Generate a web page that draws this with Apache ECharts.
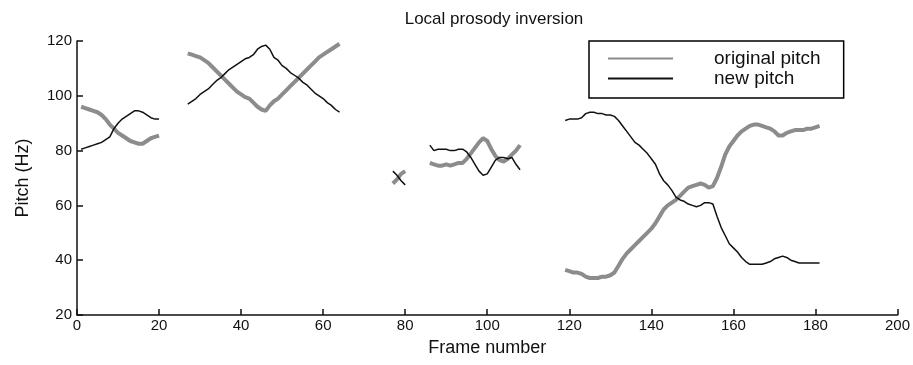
<!DOCTYPE html>
<html>
<head>
<meta charset="utf-8">
<script src="https://cdn.jsdelivr.net/npm/echarts@6/dist/echarts.min.js"></script>
<style>html,body{margin:0;padding:0;background:#fff}#c{width:913px;height:365px}</style>
</head>
<body>
<div id="c"></div>
<script>
// Segments of frames (x) with values for both series
const seg1Frames = [1,2,3,4,5,6,7,8,9,10,11,12,13,14,15,16,17,18,19,20];
const seg1Original = [96,95.5,95,94.5,94,93,91.5,89.5,88,86.5,85.5,84.5,83.5,83,82.5,82.5,83.5,84.5,85,85.5];
const seg1New = [80.5,81,81.5,82,82.5,83,84,85,88,90,91.5,92.5,93.5,94.5,94.5,94,93,92,91.5,91.5];

const seg2Frames = [27,28,29,30,31,32,33,34,35,36,37,38,39,40,41,42,43,44,45,46,47,48,49,50,51,52,53,54,55,56,57,58,59,60,61,62,63,64];
const seg2Original = [115.5,115,114.5,114,113,112,110.5,109,107.5,106,104.5,103,101.5,100.5,99.5,99,97.5,96,95,94.5,96.5,98,99,100.5,102,103.5,105,106.5,108,109.5,111,112.5,114,115,116,117,118,119];
const seg2New = [97,98,99,100.5,101.5,102.5,104,105.5,106.5,108,109.5,110.5,111.5,112.5,113.5,114,115,117,118,118.5,117,114,113,111,110,108.5,107.5,106.5,105,104,102.5,101,100,99,97.5,96.5,95,94];

const seg3Frames = [77,78,79,80];
const seg3Original = [68,69.5,71.5,72.5];
const seg3New = [72.5,71,69,67.5];

const seg4Frames = [86,87,88,89,90,91,92,93,94,95,96,97,98,99,100,101,102,103,104,105,106,107,108];
const seg4Original = [75.5,75,74.5,74.5,75,74.5,75,75.5,75.5,77,79,81,83,84.5,83.5,80.5,78,76.5,76,77,78.5,80,82];
const seg4New = [82,80,80.5,80.5,80.5,80,80,80.5,80.5,79.5,77.5,75,72.5,71,71.5,74,76.5,77.5,77.5,77,77.5,75,73];

const seg5Frames = [119,120,121,122,123,124,125,126,127,128,129,130,131,132,133,134,135,136,137,138,139,140,141,142,143,144,145,146,147,148,149,150,151,152,153,154,155,156,157,158,159,160,161,162,163,164,165,166,167,168,169,170,171,172,173,174,175,176,177,178,179,180,181];
const seg5Original = [36.5,36,35.5,35.5,35,34,33.5,33.5,33.5,34,34,34.5,35.5,38,40.5,42.5,44,45.5,47,48.5,50,51.5,53.5,56,58.5,60,61,62,63.5,65,66.5,67,67.5,68,67.5,66.5,67,70,74,78.5,81.5,83.5,85.5,87,88,89,89.5,89.5,89,88.5,88,87,85.5,85.5,86.5,87,87.5,87.5,87.5,88,88,88.5,89];
const seg5New = [91,91.5,91.5,91.5,92,93.5,94,94,93.5,93.5,93,93,92.5,91,89,87,85,83,82,80.5,79,77,75,71.5,69,67.5,65.5,63,62,61.5,60.5,60,59.5,60,61,61,60.5,56,52,49,46,44.5,43,41,39.5,38.5,38.5,38.5,38.5,39,39.5,40.5,41,41.5,41,40,39.5,39,39,39,39,39,39];

const xTicks = [0,20,40,60,80,100,120,140,160,180,200];
const yTicks = [20,40,60,80,100,120];

const segments = [
  [seg1Frames, seg1Original, seg1New],
  [seg2Frames, seg2Original, seg2New],
  [seg3Frames, seg3Original, seg3New],
  [seg4Frames, seg4Original, seg4New],
  [seg5Frames, seg5Original, seg5New]
];
function build(idx) {
  const out = [];
  segments.forEach((s, k) => {
    if (k > 0) out.push([null, null]);
    s[0].forEach((f, i) => out.push([f, s[idx][i]]));
  });
  return out;
}
const originalData = build(1);
const newData = build(2);

const FONT = 'Liberation Sans';
const chart = echarts.init(document.getElementById('c'), null, {renderer: 'canvas'});
chart.setOption({
  animation: false,
  backgroundColor: '#ffffff',
  title: {
    text: 'Local prosody inversion',
    left: 489, top: 6, textAlign: 'center',
    textStyle: {fontFamily: FONT, fontSize: 17, fontWeight: 'normal', color: '#111'}
  },
  grid: {left: 77, right: 12, top: 41, bottom: 50, containLabel: false},
  legend: {
    orient: 'vertical',
    left: 589, top: 41,
    padding: [8, 23, 10, 18],
    itemWidth: 65, itemHeight: 14, itemGap: 1,
    borderColor: '#000', borderWidth: 1.5,
    backgroundColor: '#fff',
    itemStyle: {opacity: 0},
    textStyle: {fontFamily: FONT, fontSize: 19, color: '#111', padding: [0, 0, 0, 36]},
    data: ['original pitch', 'new pitch']
  },
  xAxis: {
    type: 'value', min: xTicks[0], max: xTicks[xTicks.length - 1], interval: 20,
    name: 'Frame number', nameLocation: 'middle', nameGap: 24,
    nameTextStyle: {fontFamily: FONT, fontSize: 18, color: '#111'},
    axisLine: {lineStyle: {color: '#111', width: 1.5}},
    axisTick: {inside: true, length: 6, lineStyle: {color: '#111', width: 1.5}},
    axisLabel: {fontFamily: FONT, fontSize: 15, color: '#111', margin: 3},
    splitLine: {show: false}
  },
  yAxis: {
    type: 'value', min: yTicks[0], max: yTicks[yTicks.length - 1], interval: 20,
    name: 'Pitch (Hz)', nameLocation: 'middle', nameGap: 45, nameRotate: 90,
    nameTextStyle: {fontFamily: FONT, fontSize: 18, color: '#111'},
    axisLine: {onZero: false, lineStyle: {color: '#111', width: 1.5}},
    axisTick: {inside: true, length: 6, lineStyle: {color: '#111', width: 1.5}},
    axisLabel: {fontFamily: FONT, fontSize: 15, color: '#111', margin: 5},
    splitLine: {show: false}
  },
  series: [
    {
      name: 'original pitch', type: 'line', data: originalData, connectNulls: false,
      symbol: 'none', lineStyle: {color: '#8c8c8c', width: 4}, itemStyle: {color: '#8c8c8c'}
    },
    {
      name: 'new pitch', type: 'line', data: newData, connectNulls: false,
      symbol: 'none', lineStyle: {color: '#111', width: 1.5}, itemStyle: {color: '#111'}
    }
  ]
});
</script>
</body>
</html>
